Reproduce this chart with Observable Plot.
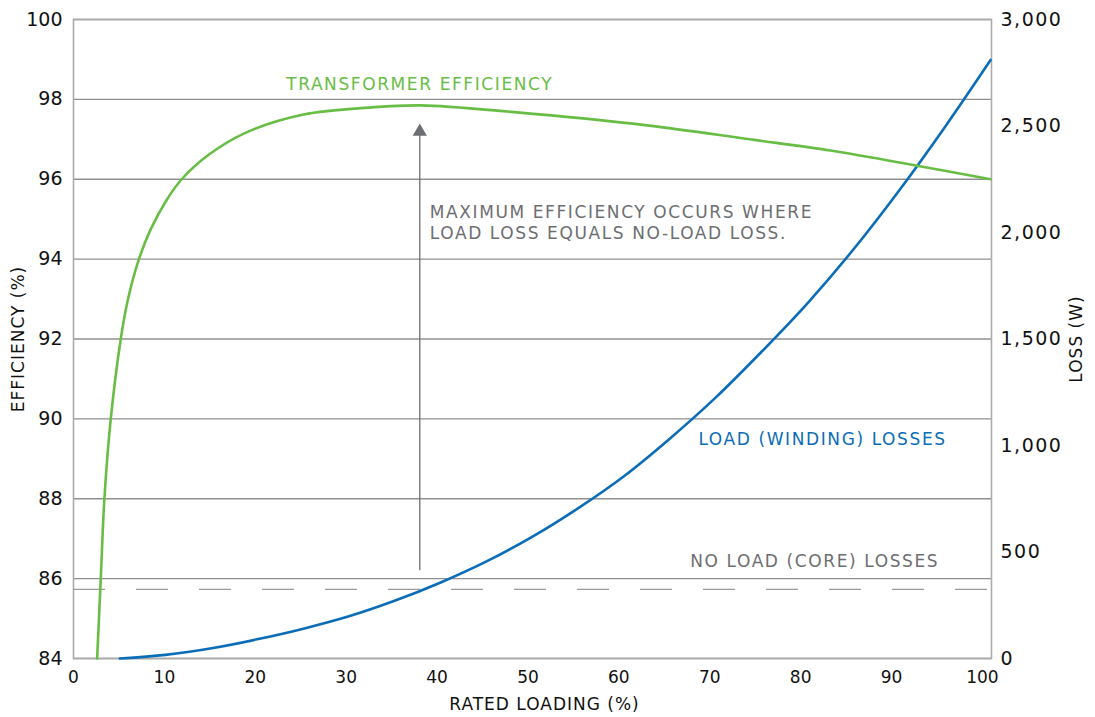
<!DOCTYPE html>
<html>
<head>
<meta charset="utf-8">
<script src="https://cdn.jsdelivr.net/npm/d3@7"></script>
<script src="https://cdn.jsdelivr.net/npm/@observablehq/plot@0.6"></script>
<style>
  html, body { margin: 0; padding: 0; background: #fff; }
  #chart { width: 1095px; height: 717px; }
</style>
</head>
<body>
<div id="chart"></div>
<script>
// ---- data ----
const effLoading = [2.6, 3.0, 3.4, 4.1, 5.2, 6.0, 7.2, 8.5, 10.3, 11.9, 14.8, 18.8, 25.3, 32.8, 38.2, 48.5, 63.1, 74.4, 83.3, 92.8, 100.9];
const efficiency = [84.0, 86.0, 88.0, 90.0, 92.0, 93.0, 94.0, 94.75, 95.5, 96.0, 96.6, 97.15, 97.62, 97.8, 97.85, 97.68, 97.35, 97.0, 96.72, 96.34, 96.0];

const lossLoading = [5.1, 10.1, 15.2, 20.2, 25.3, 30.3, 35.4, 40.4, 45.5, 50.5, 55.5, 60.6, 65.6, 70.7, 75.7, 80.8, 85.8, 90.8, 95.9, 100.9];
const loadLoss    = [0, 17, 48, 90, 140, 198, 272, 357, 457, 572, 705, 857, 1032, 1227, 1440, 1670, 1920, 2195, 2497, 2810];

const noLoadLoss = 325;

const xTicks = [0, 10, 20, 30, 40, 50, 60, 70, 80, 90, 100];
const effTicks = [84, 86, 88, 90, 92, 94, 96, 98, 100];
const lossTicks = [0, 500, 1000, 1500, 2000, 2500, 3000];

const maxEffLoading = 38.1;
const arrowFrom = 86.2, arrowTo = 97.19;

const notes = [
  {text: "TRANSFORMER EFFICIENCY", x: 23.4, y: 98.4, color: "#68bd45"},
  {text: "MAXIMUM EFFICIENCY OCCURS WHERE\nLOAD LOSS EQUALS NO-LOAD LOSS.", x: 39.2, y: 94.93, color: "#6d6e71"},
  {text: "LOAD (WINDING) LOSSES", x: 68.75, y: 89.51, color: "#0b6db7"},
  {text: "NO LOAD (CORE) LOSSES", x: 67.85, y: 86.45, color: "#6d6e71"}
];

// loss (W) -> efficiency scale coordinates (dual axis)
const toEff = l => 84 + l / 3000 * 16;
const fromEff = e => Math.round((e - 84) / 16 * 3000);

const effData = effLoading.map((x, i) => ({x, y: efficiency[i]}));
const lossData = lossLoading.map((x, i) => ({x, y: toEff(loadLoss[i])}));

const chart = Plot.plot({
  width: 1095,
  height: 717,
  marginLeft: 73,
  marginRight: 104,
  marginTop: 19,
  marginBottom: 59,
  style: {fontFamily: "'DejaVu Sans', sans-serif", fontSize: "19px", color: "#111", background: "#fff"},
  x: {domain: [0, 101]},
  y: {domain: [84, 100]},
  marks: [
    Plot.gridY(effTicks, {stroke: "#8f8f8f", strokeOpacity: 1, strokeWidth: 1.3}),
    Plot.frame({stroke: "#ababab", strokeWidth: 1.6}),
    Plot.ruleY([noLoadLoss], {y: toEff, stroke: "#9a9a9a", strokeWidth: 1.3, strokeDasharray: "32,31"}),
    Plot.ruleX([maxEffLoading], {y1: arrowFrom, y2: arrowTo, stroke: "#6d6e71", strokeWidth: 1.3}),
    Plot.dot([maxEffLoading], {x: d => d, y: () => arrowTo, symbol: "triangle", r: 5.3, fill: "#6d6e71", stroke: "none"}),
    Plot.line(lossData, {x: "x", y: "y", stroke: "#0b6db7", strokeWidth: 2.6, curve: "monotone-x"}),
    Plot.line(effData, {x: "x", y: "y", stroke: "#68bd45", strokeWidth: 2.6, curve: "catmull-rom"}),
    Plot.text(notes, {x: "x", y: "y", text: "text", fill: "color", textAnchor: "start", lineAnchor: "middle", lineHeight: 1.24, fontSize: 17}),
    Plot.axisX(xTicks, {tickSize: 0, tickPadding: 12, fontSize: 17, label: null}),
    Plot.axisY(effTicks, {anchor: "left", tickSize: 0, tickPadding: 11, fontSize: 19, label: null}),
    Plot.axisY(lossTicks.map(toEff), {anchor: "right", tickSize: 0, tickPadding: 9, fontSize: 19, label: null, tickFormat: d => d3.format(",")(fromEff(d))}),
    Plot.text(["RATED LOADING (%)"], {frameAnchor: "bottom", dy: 46, dx: 12, lineAnchor: "middle", textAnchor: "middle", fontSize: 17}),
    Plot.text(["EFFICIENCY (%)"], {frameAnchor: "left", dx: -55, rotate: -90, textAnchor: "middle", lineAnchor: "middle", fontSize: 17}),
    Plot.text(["LOSS (W)"], {frameAnchor: "right", dx: 85, rotate: -90, textAnchor: "middle", lineAnchor: "middle", fontSize: 17})
  ]
});

document.getElementById("chart").appendChild(chart);

// letter spacing to mimic the wide geometric typeface of the original
const noteTexts = new Set(notes.map(d => d.text.replace("\n", "")));
const axisTitles = new Set(["RATED LOADING (%)", "EFFICIENCY (%)", "LOSS (W)"]);
d3.select(chart).selectAll("text").each(function () {
  const t = this.textContent;
  if (noteTexts.has(t)) this.style.letterSpacing = "1.6px";
  else if (axisTitles.has(t)) this.style.letterSpacing = "1px";
  else if (this.getBoundingClientRect().x > 995) this.style.letterSpacing = "1.5px";
});
</script>
</body>
</html>
